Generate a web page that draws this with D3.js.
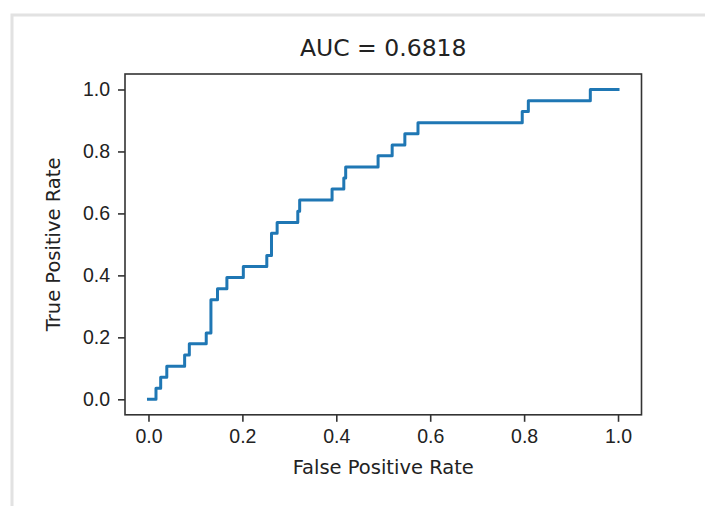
<!DOCTYPE html>
<html>
<head>
<meta charset="utf-8">
<script src="https://cdn.jsdelivr.net/npm/d3@7"></script>
<style>
  body { margin: 0; background: #fff; }
  svg { display: block; font-family: "DejaVu Sans", sans-serif; }
</style>
</head>
<body>
<script>
// ROC curve corners
const fpr = [0, 0.016, 0.016, 0.026, 0.026, 0.039, 0.039, 0.077, 0.077, 0.087, 0.087,
  0.123, 0.123, 0.133, 0.133, 0.147, 0.147, 0.167, 0.167, 0.202, 0.202, 0.252, 0.252,
  0.262, 0.262, 0.274, 0.274, 0.318, 0.318, 0.322, 0.322, 0.391, 0.391, 0.416, 0.416,
  0.42, 0.42, 0.489, 0.489, 0.519, 0.519, 0.546, 0.546, 0.574, 0.574, 0.796, 0.796,
  0.809, 0.809, 0.941, 0.941, 1.0];
const tpr = [0, 0, 0.036, 0.036, 0.071, 0.071, 0.107, 0.107, 0.143, 0.143, 0.179,
  0.179, 0.214, 0.214, 0.321, 0.321, 0.357, 0.357, 0.393, 0.393, 0.429, 0.429, 0.464,
  0.464, 0.536, 0.536, 0.571, 0.571, 0.607, 0.607, 0.643, 0.643, 0.679, 0.679, 0.714,
  0.714, 0.75, 0.75, 0.786, 0.786, 0.821, 0.821, 0.857, 0.857, 0.893, 0.893, 0.929,
  0.929, 0.964, 0.964, 1.0, 1.0];
const ticks = [0, 0.2, 0.4, 0.6, 0.8, 1.0];
const title = "AUC = 0.6818";

const W = 705, H = 506;
const m = {left: 125, right: 641.5, top: 74, bottom: 414.8};

const svg = d3.select("body").append("svg")
    .attr("width", W)
    .attr("height", H);

// screenshot border
svg.append("path")
    .attr("d", `M12,${H} V15 H${W}`)
    .attr("fill", "none")
    .attr("stroke", "#e2e2e2")
    .attr("stroke-width", 3);

const x = d3.scaleLinear().domain([-0.05, 1.05]).range([m.left, m.right]);
const y = d3.scaleLinear().domain([-0.05, 1.05]).range([m.bottom, m.top]);

const fmt = d3.format(".1f");

const xAxis = svg.append("g")
    .attr("transform", `translate(0,${m.bottom})`)
    .call(d3.axisBottom(x).tickValues(ticks).tickFormat(fmt).tickSize(7).tickPadding(7));

const yAxis = svg.append("g")
    .attr("transform", `translate(${m.left},0)`)
    .call(d3.axisLeft(y).tickValues(ticks).tickFormat(fmt).tickSize(7).tickPadding(8));

[xAxis, yAxis].forEach(g => {
  g.select(".domain").remove();
  g.selectAll("line").attr("stroke", "#333").attr("stroke-width", 1.6);
  g.selectAll("text").attr("fill", "#222").style("font-size", "19.5px");
});

// axes frame
svg.append("rect")
    .attr("x", m.left)
    .attr("y", m.top)
    .attr("width", m.right - m.left)
    .attr("height", m.bottom - m.top)
    .attr("fill", "none")
    .attr("stroke", "#333")
    .attr("stroke-width", 1.6);

const line = d3.line()
    .x((d, i) => x(fpr[i]))
    .y((d, i) => y(tpr[i]));

svg.append("path")
    .datum(fpr)
    .attr("d", line)
    .attr("fill", "none")
    .attr("stroke", "#1f77b4")
    .attr("stroke-width", 3)
    .attr("stroke-linejoin", "round")
    .attr("stroke-linecap", "square");

svg.append("text")
    .attr("x", (m.left + m.right) / 2)
    .attr("y", 56)
    .attr("text-anchor", "middle")
    .attr("fill", "#222")
    .style("font-size", "23.5px")
    .text(title);

svg.append("text")
    .attr("x", (m.left + m.right) / 2)
    .attr("y", 474)
    .attr("text-anchor", "middle")
    .attr("fill", "#222")
    .style("font-size", "19.5px")
    .text("False Positive Rate");

svg.append("text")
    .attr("transform", `translate(60,${(m.top + m.bottom) / 2}) rotate(-90)`)
    .attr("text-anchor", "middle")
    .attr("fill", "#222")
    .style("font-size", "19.5px")
    .text("True Positive Rate");
</script>
</body>
</html>
